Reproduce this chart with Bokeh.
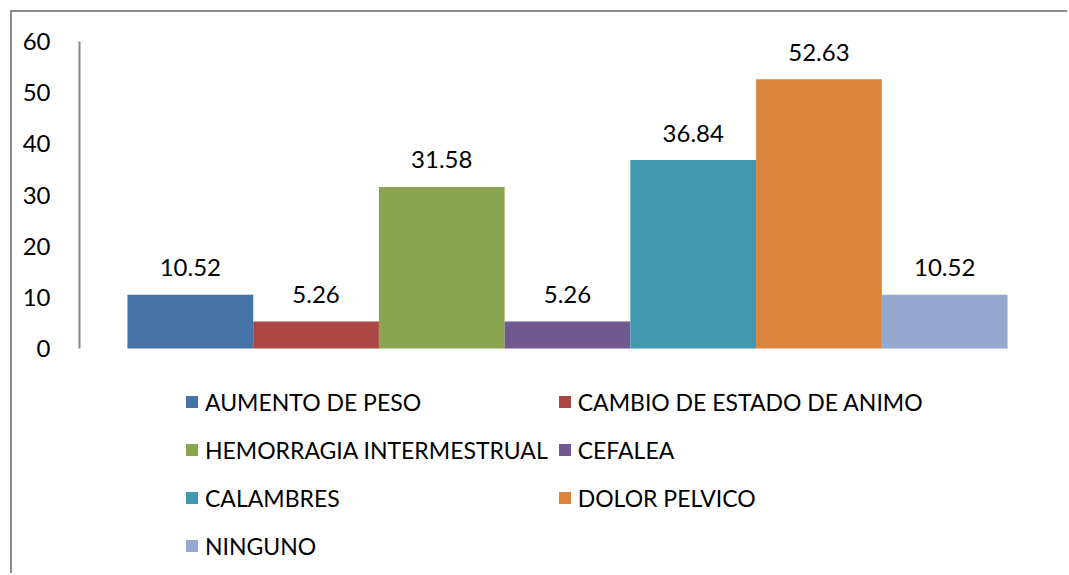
from bokeh.plotting import figure
from bokeh.models import ColumnDataSource, Legend, LegendItem, FactorRange, Range1d
from bokeh.embed import file_html
from bokeh.resources import INLINE
from bokeh.core.properties import value

categories = ["AUMENTO DE PESO", "CAMBIO DE ESTADO DE ANIMO", "HEMORRAGIA INTERMESTRUAL",
              "CEFALEA", "CALAMBRES", "DOLOR PELVICO", "NINGUNO"]
values = [10.52, 5.26, 31.58, 5.26, 36.84, 52.63, 10.52]
labels = ["10.52", "5.26", "31.58", "5.26", "36.84", "52.63", "10.52"]
colors = ["#4572A7", "#AA4643", "#89A54E", "#71588F", "#4198AF", "#DB843D", "#93A9CF"]
y_ticks = [0, 10, 20, 30, 40, 50, 60]

FONT = "Lato"

# frame runs to the bottom of the canvas so the legend can live inside it
# (axis scale: 60 units over 307 px; 227 px of room below the zero line)
Y_MAX = 60
Y_MIN = -227 * Y_MAX / 307

src = ColumnDataSource(dict(cat=categories, val=values, lab=labels, col=colors))

p = figure(width=1057, height=563, output_backend="svg", toolbar_location=None,
           x_range=FactorRange(factors=categories, range_padding=0.109),
           y_range=Range1d(Y_MIN, Y_MAX), x_axis_location=None,
           min_border_left=67, min_border_right=14, min_border_top=29, min_border_bottom=0,
           styles={"border-top": "2px solid #8c8c8c", "border-left": "2px solid #8c8c8c",
                   "margin-left": "10px", "margin-top": "10px"})
p.outline_line_color = None
p.grid.visible = False

r = p.vbar(x="cat", top="val", width=1.0, source=src, fill_color="col", line_color=None)
p.text(x="cat", y="val", text="lab", source=src, text_align="center",
       text_baseline="alphabetic", y_offset=-27, text_font=value(FONT),
       text_font_size="24px", text_color="#000000")

ax = p.yaxis[0]
ax.ticker = y_ticks
ax.bounds = (0, Y_MAX)
ax.axis_line_color = "#868686"
ax.axis_line_width = 2
ax.major_tick_line_color = None
ax.minor_tick_line_color = None
ax.major_label_standoff = 23
ax.major_label_text_font = FONT
ax.major_label_text_font_size = "24px"
ax.major_label_text_color = "#000000"

# legend is filled column by column: interleave so rows read left to right
n = len(categories)
order = list(range(0, n, 2)) + list(range(1, n, 2))
items = [LegendItem(label=categories[i], renderers=[r], index=i) for i in order]
legend = Legend(items=items, ncols=2, location=(105, 10),
                glyph_width=15, glyph_height=15, label_standoff=6, label_height=39,
                spacing=9, padding=0, margin=0, border_line_color=None,
                background_fill_alpha=0, label_text_font=FONT, label_text_font_size="23px",
                label_text_color="#000000")
p.add_layout(legend, "center")

open("out.html", "w").write(file_html(p, INLINE))
